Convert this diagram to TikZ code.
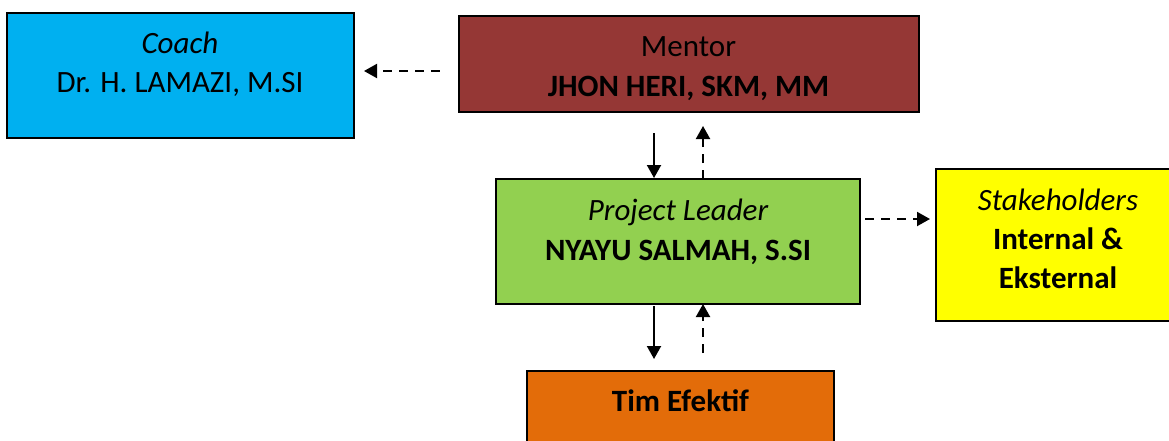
\documentclass[tikz,border=0pt]{standalone}
\usepackage{fontspec}
\setmainfont{Carlito}
\usetikzlibrary{arrows.meta}
\definecolor{coachblue}{HTML}{00B0F0}
\definecolor{mentorred}{HTML}{953735}
\definecolor{leadgreen}{HTML}{92D050}
\definecolor{stakeyellow}{HTML}{FFFF00}
\definecolor{timorange}{HTML}{E36C09}
\tikzset{
  box/.style={draw=black, line width=2pt, rectangle, inner sep=0pt, outer sep=0pt},
  txt/.style={anchor=base, inner sep=0pt, font=\fontsize{31}{39}\selectfont},
  solidarrow/.style={line width=2pt, -{Triangle[length=13pt,width=14pt]}},
  dasharrow/.style={line width=2pt, dash pattern=on 9pt off 7pt, -{Triangle[length=13pt,width=14pt]}}
}
\begin{document}
\begin{tikzpicture}[x=1pt,y=-1pt]
\useasboundingbox (0,0) rectangle (1169,441);
% boxes
\node[box, fill=coachblue, minimum width=347.5pt, minimum height=125pt] (coach) at (180.25,75.5) {};
\node[box, fill=mentorred, minimum width=460.5pt, minimum height=96pt] (mentor) at (688.75,64) {};
\node[box, fill=leadgreen, minimum width=364pt, minimum height=125pt] (pl) at (678,241.5) {};
\node[box, fill=stakeyellow, minimum width=249pt, minimum height=152pt] (stake) at (1060.5,245) {};
\node[box, fill=timorange, minimum width=307pt, minimum height=99pt] (tim) at (680.5,420.5) {};
% texts
\node[txt] (coach1) at (180,54) {\itshape Coach};
\node[txt] (coach2) at (180,93) {Dr. H. LAMAZI, M.SI};
\node[txt] (mentor1) at (688.5,57) {Mentor};
\node[txt] (mentor2) at (688.5,97) {\bfseries JHON HERI, SKM, MM};
\node[txt] (pl1) at (678,220) {\itshape Project Leader};
\node[txt] (pl2) at (678,260) {\bfseries NYAYU SALMAH, S.SI};
\node[txt] (st1) at (1058,210) {\itshape Stakeholders};
\node[txt] (st2) at (1058,249) {\bfseries Internal \&};
\node[txt] (st3) at (1058,288) {\bfseries Eksternal};
\node[txt] (tim1) at (680.5,411) {\bfseries Tim Efektif};
% helper coordinates
\coordinate (cy) at (0,71);
\coordinate (sy) at (0,219);
\coordinate (lx) at (654,0);
\coordinate (rx) at (703,0);
% connectors
\draw[dasharrow, shorten <=19pt, shorten >=10pt] (mentor.west |- cy) -- (coach.east |- cy);
\draw[dasharrow, shorten <=5pt, shorten >=6pt] (pl.east |- sy) -- (stake.west |- sy);
\draw[solidarrow, shorten <=21pt, shorten >=1pt] (mentor.south -| lx) -- (pl.north -| lx);
\draw[dasharrow, shorten >=14pt] (pl.north -| rx) -- (mentor.south -| rx);
\draw[solidarrow, shorten <=2pt, shorten >=12pt] (pl.south -| lx) -- (tim.north -| lx);
\draw[dasharrow, shorten <=18pt] (tim.north -| rx) -- (pl.south -| rx);
\end{tikzpicture}
\end{document}
